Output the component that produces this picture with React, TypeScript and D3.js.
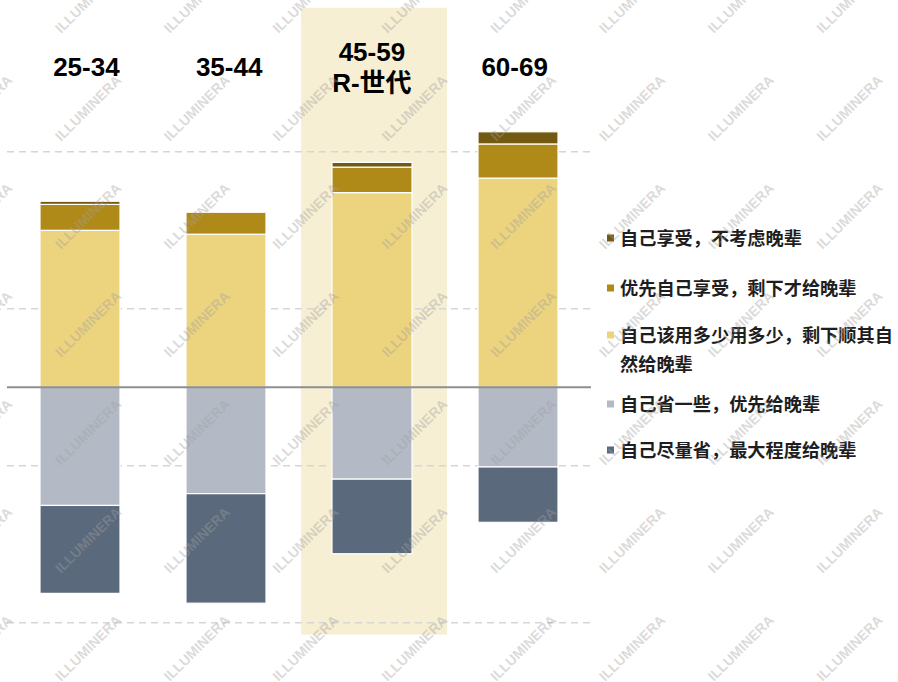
import React from "react";
import * as d3 from "d3";

const categories = ["25-34", "35-44", "45-59", "60-69"];
const categoryLabels = [["25-34"], ["35-44"], ["45-59", "R-世代"], ["60-69"]];
const highlightCategory = "45-59";

// positive side (stacked upward from 0)
const selfUseAsNeeded = [40.0, 39.0, 49.6, 53.3];
const selfFirstRestToKids = [6.6, 5.6, 6.5, 8.7];
const selfEnjoyOnly = [0.8, 0.0, 1.2, 3.1];
// negative side (stacked downward from 0)
const saveSomeForKids = [30.1, 27.1, 23.4, 20.3];
const saveMostForKids = [22.4, 27.9, 19.0, 14.1];

const gridValues = [60, 20, -20, -60];

const legendItems = [
  { lines: ["自己享受，不考虑晚辈"], color: "#735a12" },
  { lines: ["优先自己享受，剩下才给晚辈"], color: "#b08a18" },
  { lines: ["自己该用多少用多少，剩下顺其自", "然给晚辈"], color: "#ecd37e" },
  { lines: ["自己省一些，优先给晚辈"], color: "#b3bac6" },
  { lines: ["自己尽量省，最大程度给晚辈"], color: "#5a697b" },
];

const W = 898;
const H = 682;

export default function App() {
  const x = d3.scaleBand<string>().domain(categories).range([7, 591]).padding(0);
  const xLabel = d3.scaleBand<string>().domain(categories).range([15, 586]).padding(0);
  const y = d3.scaleLinear().domain([-60, 60]).range([622.8, 151.8]);
  const barW = x.bandwidth() * 0.548;

  const posSeries = [
    { vals: selfUseAsNeeded, color: legendItems[2].color },
    { vals: selfFirstRestToKids, color: legendItems[1].color },
    { vals: selfEnjoyOnly, color: legendItems[0].color },
  ];
  const negSeries = [
    { vals: saveSomeForKids, color: legendItems[3].color },
    { vals: saveMostForKids, color: legendItems[4].color },
  ];

  const segs: { x: number; y0: number; y1: number; color: string; key: string }[] = [];
  categories.forEach((c, i) => {
    const cx = (x(c) as number) + x.bandwidth() / 2;
    let acc = 0;
    posSeries.forEach((s, si) => {
      const v = s.vals[i];
      if (v > 0) segs.push({ x: cx - barW / 2, y0: y(acc + v), y1: y(acc), color: s.color, key: `p${i}-${si}` });
      acc += v;
    });
    acc = 0;
    negSeries.forEach((s, si) => {
      const v = s.vals[i];
      if (v > 0) segs.push({ x: cx - barW / 2, y0: y(-acc), y1: y(-acc - v), color: s.color, key: `n${i}-${si}` });
      acc += v;
    });
  });

  const hx = (x(highlightCategory) as number) + 2;

  // watermark grid
  const marks: { cx: number; cy: number }[] = [];
  for (let j = 0; j <= 7; j++) {
    for (let i = -1; i <= 8; i++) {
      marks.push({ cx: 88 + i * 108.8, cy: j * 108 });
    }
  }

  const legendX = 607;
  const legendRows = [238, 288, 335, 404, 450];

  return (
    <svg width={W} height={H} style={{ position: "absolute", left: 0, top: 0, background: "#fff" }}>
      <rect x={0} y={0} width={W} height={H} fill="#fff" />
      <rect x={hx} y={y(96.7)} width={x.bandwidth()} height={y(-63) - y(96.7)} fill="#f7efd3" />
      {gridValues.map((g) => (
        <line key={g} x1={7} x2={591} y1={y(g)} y2={y(g)} stroke="#d6d6d6" strokeWidth={1.5} strokeDasharray="7,5" />
      ))}
      {segs.map((s) => (
        <rect key={s.key} x={s.x} y={s.y0} width={barW} height={Math.max(0, s.y1 - s.y0)} fill={s.color} stroke="#fff" strokeWidth={1.2} />
      ))}
      <line x1={7} x2={591} y1={y(0)} y2={y(0)} stroke="#8e8e8e" strokeWidth={2} />
      {categories.map((c, i) => {
        const cx = (xLabel(c) as number) + xLabel.bandwidth() / 2;
        const lines = categoryLabels[i];
        const baseY = lines.length === 1 ? 76 : 61;
        return (
          <text key={c} x={cx} textAnchor="middle" fontFamily="'Liberation Sans', Arial, 'Noto Sans CJK SC', sans-serif" fontWeight="bold" fontSize={26} fill="#000">
            {lines.map((l, k) => (
              <tspan key={k} x={cx} y={baseY + k * 31}>{l}</tspan>
            ))}
          </text>
        );
      })}
      {legendItems.map((it, i) => (
        <g key={i}>
          <rect x={legendX} y={legendRows[i] - 3.5} width={7} height={7} fill={it.color} />
          <text fontFamily="'Noto Sans CJK SC', sans-serif" fontWeight="bold" fontSize={18.2} fill="#1e1e1e">
            {it.lines.map((l, k) => (
              <tspan key={k} x={620} y={legendRows[i] + 6.5 + k * 29}>{l}</tspan>
            ))}
          </text>
        </g>
      ))}
      <g pointerEvents="none">
        {marks.map((m, i) => (
          <text key={i} transform={`translate(${m.cx},${m.cy}) rotate(-45)`} textAnchor="middle" dominantBaseline="central" fontFamily="'Liberation Sans', Arial, sans-serif" fontWeight="bold" fontSize={14} fill="#a0a0a0" fillOpacity={0.4}>
            ILLUMINERA
          </text>
        ))}
      </g>
    </svg>
  );
}
